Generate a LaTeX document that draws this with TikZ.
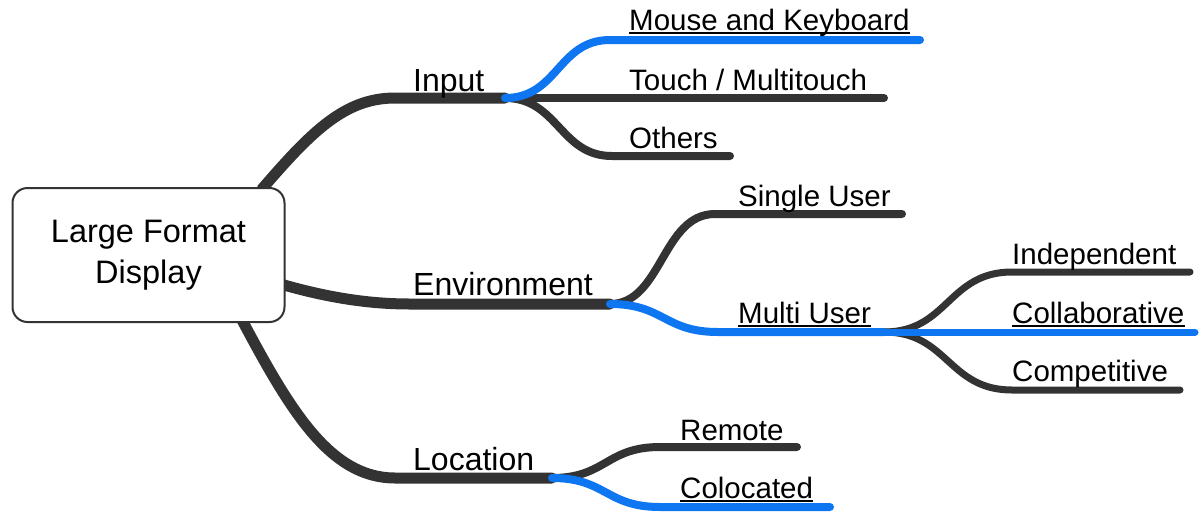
\documentclass[tikz,border=0pt]{standalone}
\usepackage{fontspec}
\setmainfont{Liberation Sans}
\definecolor{branch}{RGB}{51,51,51}
\definecolor{sel}{RGB}{14,118,240}
\begin{document}
\begin{tikzpicture}[x=1pt,y=-1pt,
  lone/.style={line width=11pt, draw=branch, line cap=round},
  ltwo/.style={line width=8pt, draw=branch, line cap=round},
  lthree/.style={line width=7pt, draw=branch, line cap=round},
  selb/.style={draw=sel},
  big/.style={font=\fontsize{32}{38}\selectfont, inner sep=0pt, anchor=base west},
  small/.style={font=\fontsize{29.5}{35}\selectfont, inner sep=0pt, anchor=base west},
  uline/.style={line width=1.5pt, draw=black}
]
\useasboundingbox (0,0) rectangle (1200,512);

% coordinates
\coordinate (rIn) at (262,189);
\coordinate (inS) at (395,98);
\coordinate (inJ) at (505,98);
\coordinate (rEnv) at (284,285);
\coordinate (envS) at (410,304);
\coordinate (envJ) at (610,304);
\coordinate (rLoc) at (242,320);
\coordinate (locS) at (395,478);
\coordinate (locJ) at (552,478);

\coordinate (mkS) at (610,40);  \coordinate (mkE) at (920,40);
\coordinate (tmE) at (884,98);
\coordinate (otS) at (612,156); \coordinate (otE) at (730,156);

\coordinate (suS) at (715,214); \coordinate (suE) at (902,214);
\coordinate (muS) at (718,332); \coordinate (muJ) at (884,332);

\coordinate (idS) at (1012,272); \coordinate (idE) at (1190,272);
\coordinate (coE) at (1195,332);
\coordinate (cpS) at (1012,390); \coordinate (cpE) at (1180,390);

\coordinate (reS) at (660,447); \coordinate (reE) at (797,447);
\coordinate (clS) at (660,507); \coordinate (clE) at (830,507);

% first level branches
\draw[lone] (rIn) .. controls (312,131) and (345,98) .. (inS) -- (inJ);
\draw[lone] (rEnv) .. controls (330,298) and (370,304) .. (envS) -- (envJ);
\draw[lone] (rLoc) .. controls (290,410) and (330,478) .. (locS) -- (locJ);

% input children
\draw[ltwo] (inJ) -- (tmE);
\draw[ltwo] (inJ) .. controls (558,98) and (560,156) .. (otS) -- (otE);
% environment children
\draw[ltwo] (envJ) .. controls (662,304) and (662,214) .. (suS) -- (suE);
% multi user children
\draw[lthree] (muJ) .. controls (948,332) and (948,272) .. (idS) -- (idE);
\draw[lthree] (muJ) .. controls (948,332) and (948,390) .. (cpS) -- (cpE);
% location children
\draw[ltwo] (locJ) .. controls (606,478) and (606,447) .. (reS) -- (reE);

% selected (blue) paths
\draw[ltwo,selb] (inJ) .. controls (558,98) and (558,40) .. (mkS) -- (mkE);
\draw[ltwo,selb] (envJ) .. controls (664,304) and (664,332) .. (muS) -- (muJ);
\draw[lthree,selb] (muJ) -- (coE);
\draw[ltwo,selb] (locJ) .. controls (606,478) and (606,507) .. (clS) -- (clE);

% root
\node[draw=branch, fill=white, line width=2pt, rounded corners=15pt,
      minimum width=272pt, minimum height=134pt, align=center,
      font=\fontsize{32.5}{41}\selectfont] (root) at (148.5,255) {Large Format\\Display};

% labels
\node[big] (tIn) at (413,91) {Input};
\node[big] (tEnv) at (413,295) {Environment};
\node[big] (tLoc) at (413,470) {Location};

\node[small] (tMK) at (629,30) {Mouse and Keyboard};
\node[small] (tTM) at (629,90) {Touch / Multitouch};
\node[small] (tOt) at (629,148) {Others};

\node[small] (tSU) at (738,206) {Single User};
\node[small] (tMU) at (738,323) {Multi User};

\node[small] (tId) at (1012,264) {Independent};
\node[small] (tCo) at (1012,323) {Collaborative};
\node[small] (tCp) at (1012,381) {Competitive};

\node[small] (tRe) at (680,440) {Remote};
\node[small] (tCl) at (680,498) {Colocated};

% underlines
\draw[uline] ([yshift=-3pt]tMK.base west) -- ([yshift=-3pt]tMK.base east);
\draw[uline] ([yshift=-3pt]tMU.base west) -- ([yshift=-3pt]tMU.base east);
\draw[uline] ([yshift=-3pt]tCo.base west) -- ([yshift=-3pt]tCo.base east);
\draw[uline] ([yshift=-3pt]tCl.base west) -- ([yshift=-3pt]tCl.base east);
\end{tikzpicture}
\end{document}
